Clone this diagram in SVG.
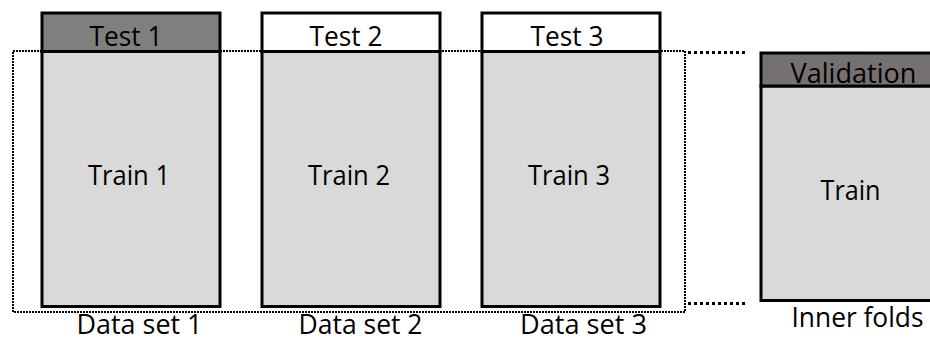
<svg xmlns="http://www.w3.org/2000/svg" width="930" height="341" viewBox="0 0 930 341">
<style>
.box{stroke:#000;stroke-width:3;}
.train{fill:#d9d9d9;}
.t{font-family:"Open Sans","Liberation Sans",sans-serif;font-size:27px;fill:#000;}
.dot{fill:none;stroke:#000;stroke-width:2;stroke-dasharray:2 1;}
.dot2{fill:none;stroke:#000;stroke-width:3;stroke-dasharray:3 3;}
</style>
<rect width="930" height="341" fill="#fff"/>
<g id="connectors">
<rect class="dot" x="13" y="51" width="672" height="261"/>
<line class="dot2" x1="688" y1="52.5" x2="745" y2="52.5"/>
<line class="dot2" x1="688" y1="303.5" x2="745" y2="303.5"/>
</g>
<g id="dataset1">
<rect class="box train" x="42" y="51.5" width="178" height="255"/>
<rect class="box" x="42" y="13" width="178" height="38.5" fill="#7f7f7f"/>
<text class="t" x="89.5" y="46" textLength="73" lengthAdjust="spacingAndGlyphs">Test 1</text>
<text class="t" x="88" y="185" textLength="82" lengthAdjust="spacingAndGlyphs">Train 1</text>
<text class="t" x="76.5" y="334" textLength="126" lengthAdjust="spacingAndGlyphs">Data set 1</text>
</g>
<g id="dataset2">
<rect class="box train" x="262" y="51.5" width="178" height="255"/>
<rect class="box" x="262" y="13" width="178" height="38.5" fill="#fff"/>
<text class="t" x="309.5" y="46" textLength="73" lengthAdjust="spacingAndGlyphs">Test 2</text>
<text class="t" x="308" y="185" textLength="82" lengthAdjust="spacingAndGlyphs">Train 2</text>
<text class="t" x="298.5" y="334" textLength="124" lengthAdjust="spacingAndGlyphs">Data set 2</text>
</g>
<g id="dataset3">
<rect class="box train" x="482" y="51.5" width="178" height="255"/>
<rect class="box" x="482" y="13" width="178" height="38.5" fill="#fff"/>
<text class="t" x="530.5" y="46" textLength="73" lengthAdjust="spacingAndGlyphs">Test 3</text>
<text class="t" x="528" y="185" textLength="82" lengthAdjust="spacingAndGlyphs">Train 3</text>
<text class="t" x="520" y="334" textLength="127" lengthAdjust="spacingAndGlyphs">Data set 3</text>
</g>
<g id="innerfolds">
<rect class="box train" x="761" y="86" width="180" height="214.5"/>
<rect class="box" x="761" y="53" width="180" height="33" fill="#767171"/>
<text class="t" x="790.5" y="82.5" textLength="126" lengthAdjust="spacingAndGlyphs">Validation</text>
<text class="t" x="820.5" y="199.5" textLength="60" lengthAdjust="spacingAndGlyphs">Train</text>
<text class="t" x="791.5" y="327" textLength="132" lengthAdjust="spacingAndGlyphs">Inner folds</text>
</g>
</svg>
